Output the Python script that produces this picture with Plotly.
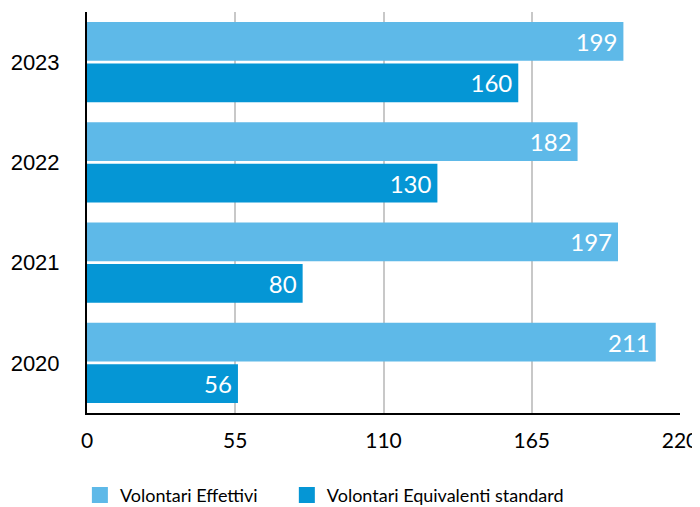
import plotly.graph_objects as go

years = ["2020", "2021", "2022", "2023"]
effettivi = [211, 197, 182, 199]
equivalenti = [56, 80, 130, 160]
tick_vals = [0, 55, 110, 165, 220]
names = ["Volontari Effettivi", "Volontari Equivalenti standard"]
colors = ["#5EB9E8", "#0596D5"]

FUT = "Lato, 'Noto Sans', sans-serif"

fig = go.Figure()
fig.add_trace(go.Bar(
    y=years, x=equivalenti, orientation="h", name=names[1], showlegend=False,
    marker=dict(color=colors[1], line=dict(width=0)),
    texttemplate="%{x}\u2009", textposition="inside", insidetextanchor="end",
    textfont=dict(color="white", size=24, family=FUT),
))
fig.add_trace(go.Bar(
    y=years, x=effettivi, orientation="h", name=names[0], showlegend=False,
    marker=dict(color=colors[0], line=dict(width=0)),
    texttemplate="%{x}\u2009", textposition="inside", insidetextanchor="end",
    textfont=dict(color="white", size=24, family=FUT),
))
# legend entries with larger square swatches, one legend box each
for nm, c, lg in zip(names, colors, ["legend", "legend2"]):
    fig.add_trace(go.Scatter(
        x=[None], y=[None], mode="markers", name=nm, legend=lg,
        marker=dict(symbol="square", size=19, color=c), hoverinfo="skip",
    ))

leg_common = dict(orientation="h", y=-0.205, yanchor="middle", xanchor="left",
                  font=dict(family=FUT, size=18, color="black"),
                  itemwidth=30, bgcolor="rgba(0,0,0,0)")

# the page body has an 8px margin, so compensate in the figure size/margins
fig.update_layout(
    width=692, height=499,
    margin=dict(l=79, r=20, t=4, b=94, autoexpand=False),
    paper_bgcolor="white", plot_bgcolor="white",
    barmode="group", bargap=0.17, bargroupgap=0.07,
    showlegend=True,
    legend=dict(x=-0.012, **leg_common),
    legend2=dict(x=0.337, **leg_common),
    xaxis=dict(range=[0, 220], tickvals=tick_vals, showgrid=True,
               gridcolor="#C8C8C8", gridwidth=2, zeroline=False,
               showline=True, linecolor="black", linewidth=2,
               tickfont=dict(family=FUT, size=21, color="black"),
               ticks="", ticklabelstandoff=8, automargin=False),
    yaxis=dict(showgrid=False, showline=True, linecolor="black", linewidth=2,
               ticks="", tickfont=dict(family="Liberation Sans, Arial", size=22, color="black"),
               ticklabelstandoff=21, automargin=False),
)

fig.write_html("out.html")
